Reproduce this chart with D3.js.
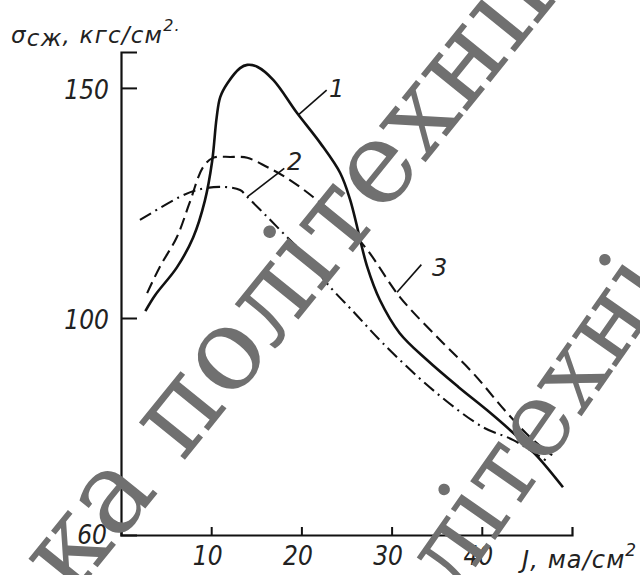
<!DOCTYPE html>
<html>
<head>
<meta charset="utf-8">
<script src="https://cdn.jsdelivr.net/npm/d3@7"></script>
<style>
  body { margin: 0; background: #fff; }
  svg text { font-family: "DejaVu Sans", sans-serif; font-style: italic; }
</style>
</head>
<body>
<script>
(function() {
  var w = 640;
  var h = 575;

  // curve 1 (solid)
  var j1 = [2.7, 3.8, 6.2, 8.0, 9.3, 10.1, 10.6, 11.0, 11.8, 13.2, 14.0, 15.1, 16.9, 19.5, 22.1, 24.3, 25.4, 27.3, 28.7, 30.9, 33.9, 37.4, 40.6, 43.5, 46.2, 49.0];
  var s1 = [101.5, 105, 111, 117.5, 125.5, 134, 143.5, 148, 151, 154.3, 155, 154.6, 151.7, 144.6, 138, 131.5, 125.7, 111.1, 103.9, 97.2, 92.3, 87.3, 83, 78.8, 74.4, 68.8];
  // curve 2 (dash-dot)
  var j2 = [2.1, 6.5, 8.4, 11.0, 13.2, 14.0, 16.2, 18.4, 20.6, 22.8, 25.9, 29.0, 34.6, 40.1, 43.5, 47.3];
  var s2 = [121.3, 126.3, 127.8, 128.5, 127.8, 126.3, 122, 117.6, 113.3, 107.6, 101.1, 95.4, 86.7, 79.9, 77.5, 73.5];
  // curve 3 (dashed)
  var j3 = [2.9, 4.3, 6.2, 7.6, 9.1, 10.2, 12.1, 14.0, 16.2, 18.4, 21.3, 24.3, 27.3, 30.9, 35.4, 39.0, 42.8, 45.7, 47.8];
  var s3 = [105.4, 111.1, 117.6, 125, 132.8, 134.8, 135, 134.8, 132.8, 130.4, 126.3, 121.3, 114.8, 104.6, 95.9, 89.9, 82.5, 77.5, 74.7];

  var xTicks = [10, 20, 30, 40];
  var yTicks = [60, 100, 150];
  var curveLabels = ['1', '2', '3'];

  var svg = d3.select('body').append('svg')
    .attr('width', w)
    .attr('height', h);

  var xScale = d3.scaleLinear().domain([0, 50]).range([121, 572]);
  // broken axis: 60..100 is drawn at a different pitch than 100..150
  var yScale = d3.scaleLinear().domain([60, 100, 157.8]).range([535, 318, 52]);

  var yAxis = d3.axisLeft(yScale)
    .tickValues(yTicks.slice(1))
    .tickSize(-16)
    .tickPadding(12)
    .tickFormat(d3.format('d'));

  var xAxis = d3.axisBottom(xScale)
    .tickValues(xTicks)
    .tickSize(-8)
    .tickPadding(10)
    .tickFormat(d3.format('d'));

  var gy = svg.append('g').attr('transform', 'translate(121,0)').call(yAxis);
  var gx = svg.append('g').attr('transform', 'translate(0,535)').call(xAxis);

  [gx, gy].forEach(function(g) {
    g.select('.domain').attr('stroke', '#111').attr('stroke-width', 2.2);
    g.selectAll('.tick line').attr('stroke', '#111').attr('stroke-width', 2);
    g.selectAll('.tick text')
      .attr('fill', '#222')
      .attr('font-size', 26)
      .style('font-family', '"DejaVu Sans Condensed", "DejaVu Sans", sans-serif')
      .style('font-stretch', 'condensed');
  });
  gy.selectAll('.tick text').attr('dy', '0.4em');
  gx.selectAll('.tick text').attr('dx', -4).attr('dy', '0.75em');

  // corner label of the broken axis
  svg.append('text')
    .attr('x', xScale(0) - 14)
    .attr('y', yScale(yTicks[0]) + 9)
    .attr('text-anchor', 'end')
    .attr('font-size', 26)
    .attr('fill', '#222')
    .style('font-family', '"DejaVu Sans Condensed", "DejaVu Sans", sans-serif')
    .style('font-stretch', 'condensed')
    .text(yTicks[0]);

  var yLabel = svg.append('text')
    .attr('x', 11)
    .attr('y', 43)
    .attr('font-size', 23)
    .attr('letter-spacing', 1.2)
    .attr('fill', '#222');
  yLabel.append('tspan').text('σ');
  yLabel.append('tspan').attr('dy', 3).text('сж');
  yLabel.append('tspan').attr('dy', -3).text(', кгс/см');
  yLabel.append('tspan').attr('dy', -12).attr('font-size', 16).text('2.');

  var xLabel = svg.append('text')
    .attr('x', 522)
    .attr('y', 568)
    .attr('font-size', 24)
    .attr('letter-spacing', 1.1)
    .attr('fill', '#222');
  xLabel.append('tspan').text('J, ма/см');
  xLabel.append('tspan').attr('dy', -12).attr('font-size', 17).text('2');

  var line = d3.line()
    .x(d => xScale(d[0]))
    .y(d => yScale(d[1]))
    .curve(d3.curveCatmullRom.alpha(0.5));

  var series = [
    { j: j1, s: s1, dash: null, width: 2.6 },
    { j: j2, s: s2, dash: '13,5,2,5', width: 2.1 },
    { j: j3, s: s3, dash: '12,6', width: 2.1 }
  ];

  svg.selectAll('path.curve')
    .data(series)
    .enter()
    .append('path')
    .attr('class', 'curve')
    .attr('d', d => line(d.j.map((v, i) => [v, d.s[i]])))
    .attr('fill', 'none')
    .attr('stroke', '#111')
    .attr('stroke-width', d => d.width)
    .attr('stroke-dasharray', d => d.dash);

  // leaders: from a point on the curve (J, value) out to the number
  var leaders = [
    { from: [19.7, 144.2], to: [22.8, 149.5], tx: 329, ty: 97 },
    { from: [14.0, 126.3], to: [18.1, 132.5], tx: 287, ty: 170 },
    { from: [30.6, 105.6], to: [33.3, 111.6], tx: 432, ty: 276 }
  ];

  leaders.forEach(function(l, i) {
    svg.append('line')
      .attr('x1', xScale(l.from[0])).attr('y1', yScale(l.from[1]))
      .attr('x2', xScale(l.to[0])).attr('y2', yScale(l.to[1]))
      .attr('stroke', '#111').attr('stroke-width', 1.6);
    svg.append('text')
      .attr('x', l.tx).attr('y', l.ty)
      .attr('font-size', 24)
      .attr('fill', '#222')
      .text(curveLabels[i]);
  });

  // scanned-page watermark
  var wm = svg.append('g').attr('fill', '#707070');
  [
    { t: 'ка політехнік', tr: 'translate(72,599) rotate(-51)', size: 114 },
    { t: 'літехні', tr: 'translate(455,597) rotate(-55)', size: 104 }
  ].forEach(function(m) {
    wm.append('text')
      .attr('transform', m.tr)
      .attr('font-size', m.size)
      .style('font-family', '"DejaVu Serif", serif')
      .style('font-style', 'normal')
      .text(m.t);
  });
})();
</script>
</body>
</html>
